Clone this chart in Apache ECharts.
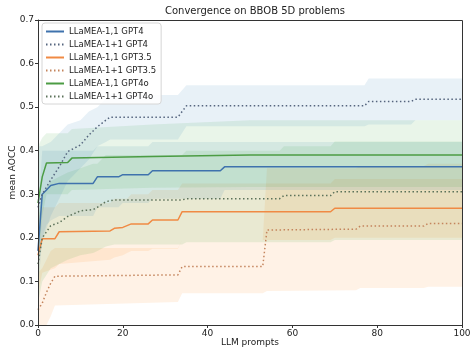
<!DOCTYPE html>
<html lang="en">
<head>
	<meta charset="UTF-8">
	<title>convergence</title>
	<style>
		html, body { margin: 0; padding: 0; background: #fff; }
		#main { width: 473px; height: 352px; }
	</style>
	<script src="https://cdn.jsdelivr.net/npm/echarts@6/dist/echarts.min.js"></script>
</head>
<body>
	<div id="main"></div>
	<script>
		// LLaMEA-1,1 GPT4
		var xA    = [0, 1, 2, 3, 5, 13, 14, 19, 20, 26, 27, 43, 44, 100];
		var meanA = [0.17, 0.30, 0.31, 0.32, 0.325, 0.325, 0.34, 0.34, 0.345, 0.345, 0.354, 0.354, 0.363, 0.363];
		var loA   = [0.08, 0.20, 0.23, 0.24, 0.25, 0.25, 0.27, 0.27, 0.28, 0.28, 0.29, 0.29, 0.31, 0.31];
		var hiA   = [0.26, 0.40, 0.40, 0.40, 0.40, 0.40, 0.41, 0.41, 0.41, 0.41, 0.42, 0.42, 0.42, 0.42];

		// LLaMEA-1+1 GPT4
		var xB    = [0, 1, 3, 5, 7, 10, 12, 14, 16, 17, 33, 35, 77, 78, 88, 89, 100];
		var meanB = [0.27, 0.30, 0.333, 0.363, 0.398, 0.413, 0.436, 0.455, 0.47, 0.477, 0.477, 0.503, 0.503, 0.513, 0.513, 0.518, 0.518];
		var loB   = [0.13, 0.19, 0.25, 0.29, 0.33, 0.36, 0.38, 0.41, 0.42, 0.426, 0.426, 0.456, 0.456, 0.46, 0.46, 0.47, 0.47];
		var hiB   = [0.41, 0.41, 0.42, 0.44, 0.46, 0.47, 0.49, 0.50, 0.52, 0.528, 0.528, 0.55, 0.55, 0.566, 0.566, 0.566, 0.566];

		// LLaMEA-1,1 GPT3.5
		var xC    = [0, 1, 4, 5, 17, 18, 20, 21, 22, 26, 27, 33, 34, 69, 70, 100];
		var meanC = [0.16, 0.198, 0.198, 0.214, 0.216, 0.222, 0.224, 0.228, 0.232, 0.232, 0.241, 0.241, 0.26, 0.26, 0.268, 0.268];
		var loC   = [0.07, 0.12, 0.13, 0.14, 0.15, 0.155, 0.16, 0.165, 0.17, 0.17, 0.175, 0.175, 0.195, 0.195, 0.2, 0.2];
		var hiC   = [0.25, 0.27, 0.27, 0.28, 0.28, 0.29, 0.29, 0.29, 0.30, 0.30, 0.31, 0.31, 0.325, 0.325, 0.335, 0.335];

		// LLaMEA-1+1 GPT3.5
		var xD    = [0, 1, 2, 3, 4, 33, 34, 53, 54, 75, 76, 91, 92, 100];
		var meanD = [0.035, 0.05, 0.075, 0.096, 0.112, 0.115, 0.134, 0.134, 0.218, 0.22, 0.227, 0.227, 0.233, 0.233];
		var loD   = [0.0, 0.0, 0.0, 0.02, 0.045, 0.053, 0.073, 0.073, 0.078, 0.08, 0.085, 0.085, 0.088, 0.088];
		var hiD   = [0.12, 0.13, 0.15, 0.17, 0.177, 0.177, 0.195, 0.195, 0.36, 0.36, 0.365, 0.365, 0.37, 0.37];

		// LLaMEA-1,1 GPT4o
		var xE    = [0, 1, 2, 7, 8, 27, 50, 100];
		var meanE = [0.28, 0.34, 0.372, 0.373, 0.383, 0.387, 0.39, 0.39];
		var loE   = [0.13, 0.25, 0.30, 0.30, 0.31, 0.315, 0.317, 0.317];
		var hiE   = [0.41, 0.43, 0.44, 0.44, 0.45, 0.46, 0.47, 0.47];

		// LLaMEA-1+1 GPT4o
		var xF    = [0, 1, 3, 5, 7, 10, 13, 14, 16, 18, 34, 35, 57, 58, 69, 70, 100];
		var meanF = [0.14, 0.20, 0.228, 0.235, 0.249, 0.262, 0.265, 0.27, 0.283, 0.287, 0.287, 0.29, 0.29, 0.297, 0.297, 0.306, 0.306];
		var loF   = [0.05, 0.10, 0.13, 0.14, 0.15, 0.16, 0.165, 0.17, 0.18, 0.185, 0.185, 0.19, 0.19, 0.19, 0.19, 0.195, 0.195];
		var hiF   = [0.24, 0.30, 0.33, 0.34, 0.35, 0.36, 0.37, 0.37, 0.39, 0.39, 0.39, 0.40, 0.40, 0.41, 0.41, 0.421, 0.421];

		var names = ['LLaMEA-1,1 GPT4', 'LLaMEA-1+1 GPT4', 'LLaMEA-1,1 GPT3.5',
			'LLaMEA-1+1 GPT3.5', 'LLaMEA-1,1 GPT4o', 'LLaMEA-1+1 GPT4o'];
		var yTicks = [0, 0.1, 0.2, 0.3, 0.4, 0.5, 0.6, 0.7];
		var xTicks = [0, 20, 40, 60, 80, 100];

		var BLUE = '#3f72ad', ORANGE = '#f08a44', GREEN = '#4c9c44';
		var BLUE_D = '#55657e', ORANGE_D = '#c4845c', GREEN_D = '#5c725a';
		var BLUE_F = 'rgba(31,119,180,0.1)', ORANGE_F = 'rgba(255,127,14,0.1)', GREEN_F = 'rgba(44,160,44,0.1)';

		function pts(xs, ys) {
			var out = [];
			for (var i = 0; i < xs.length; i++) out.push([xs[i], ys[i]]);
			return out;
		}
		function rows(xs, lo, hi) {
			var out = [];
			for (var i = 0; i < xs.length; i++) out.push([xs[i], lo[i], hi[i]]);
			return out;
		}

		//填充带 (polygon through the axis scales)
		function band(xs, lo, hi, fill) {
			return {
				type: 'custom',
				silent: true,
				z: 1,
				clip: true,
				encode: { x: 0, y: [1, 2] },
				data: rows(xs, lo, hi),
				renderItem: function (params, api) {
					if (params.dataIndexInside !== 0) return;
					var n = params.dataInsideLength;
					var top = [], bot = [];
					for (var i = 0; i < n; i++) {
						top.push(api.coord([api.value(0, i), api.value(2, i)]));
						bot.unshift(api.coord([api.value(0, i), api.value(1, i)]));
					}
					return {
						type: 'polygon',
						shape: { points: top.concat(bot) },
						style: { fill: fill, stroke: null }
					};
				}
			};
		}

		function line(name, xs, ys, color, dotted) {
			return {
				name: name,
				type: 'line',
				z: 3,
				symbol: 'none',
				silent: true,
				color: color,
				data: pts(xs, ys),
				lineStyle: { color: color, width: 1.5, type: dotted ? [1.5, 2.5] : 'solid' }
			};
		}

		var chart = echarts.init(document.getElementById('main'), null, { renderer: 'canvas' });

		var option = {
			animation: false,
			backgroundColor: '#fff',
			textStyle: { fontFamily: 'DejaVu Sans' },
			title: {
				text: 'Convergence on BBOB 5D problems',
				left: 250,
				textAlign: 'center',
				top: 1,
				textStyle: { fontSize: 10, fontWeight: 'normal', color: '#222', fontFamily: 'DejaVu Sans' }
			},
			legend: {
				data: names,
				orient: 'vertical',
				left: 42,
				top: 23,
				itemWidth: 18,
				itemHeight: 8,
				itemGap: 4,
				padding: [4, 5, 3, 3],
				backgroundColor: 'rgba(255,255,255,0.85)',
				borderColor: '#d6d6d6',
				borderWidth: 1,
				borderRadius: 3,
				itemStyle: { opacity: 0 },
				textStyle: { fontSize: 8.5, color: '#222', fontFamily: 'DejaVu Sans' }
			},
			grid: { left: 38, right: 11, top: 20, bottom: 27, outerBoundsMode: 'none', containLabel: false },
			xAxis: {
				type: 'value',
				min: 0,
				max: 100,
				interval: 20,
				name: 'LLM prompts',
				nameLocation: 'middle',
				nameGap: 13,
				nameMoveOverlap: false,
				nameTextStyle: { fontSize: 9, color: '#222' },
				axisLine: { lineStyle: { color: '#333', width: 1 } },
				axisTick: { show: true, length: 3, lineStyle: { color: '#333' } },
				axisLabel: {
					fontSize: 9, color: '#222', margin: 4,
					formatter: function (v) { return xTicks.indexOf(v) >= 0 ? String(v) : ''; }
				},
				splitLine: { show: false }
			},
			yAxis: {
				type: 'value',
				min: 0,
				max: 0.7,
				interval: 0.1,
				name: 'mean AOCC',
				nameLocation: 'middle',
				nameGap: 21,
				nameMoveOverlap: false,
				nameTextStyle: { fontSize: 9, color: '#222' },
				axisLine: { show: true, lineStyle: { color: '#333', width: 1 } },
				axisTick: { show: true, length: 3, lineStyle: { color: '#333' } },
				axisLabel: {
					fontSize: 9, color: '#222', margin: 4,
					formatter: function (v) {
						for (var i = 0; i < yTicks.length; i++) {
							if (Math.abs(yTicks[i] - v) < 1e-9) return yTicks[i].toFixed(1);
						}
						return '';
					}
				},
				splitLine: { show: false }
			},
			series: [
				band(xD, loD, hiD, ORANGE_F),
				band(xC, loC, hiC, ORANGE_F),
				band(xF, loF, hiF, GREEN_F),
				band(xA, loA, hiA, BLUE_F),
				band(xE, loE, hiE, GREEN_F),
				band(xB, loB, hiB, BLUE_F),
				line(names[0], xA, meanA, BLUE, false),
				line(names[1], xB, meanB, BLUE_D, true),
				line(names[2], xC, meanC, ORANGE, false),
				line(names[3], xD, meanD, ORANGE_D, true),
				line(names[4], xE, meanE, GREEN, false),
				line(names[5], xF, meanF, GREEN_D, true)
			]
		};

		chart.setOption(option);

		// 上边框和右边框 (matplotlib spines), placed through the grid rect
		var rect = chart.getModel().getComponent('grid').coordinateSystem.getRect();
		chart.setOption({
			graphic: [{
				type: 'rect',
				silent: true,
				z: 10,
				shape: { x: rect.x + 0.5, y: rect.y + 0.5, width: rect.width, height: rect.height },
				style: { fill: null, stroke: '#333', lineWidth: 1 }
			}]
		});
	</script>
</body>
</html>
